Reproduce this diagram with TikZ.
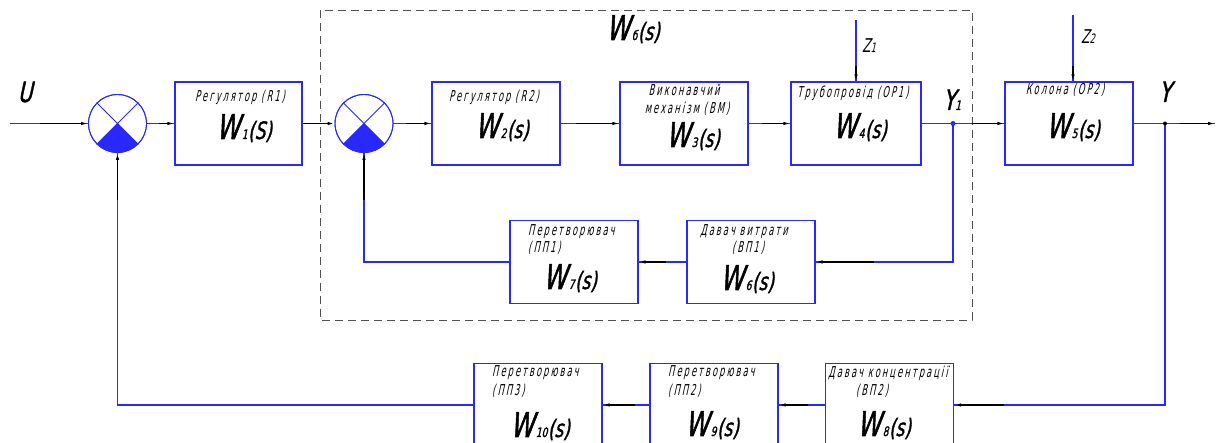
\documentclass[tikz,border=0pt]{standalone}
\usepackage{fontspec}
\usetikzlibrary{calc,arrows.meta}
\newfontfamily\gost{DejaVu Sans}[FakeSlant=0.22,FakeStretch=0.55,LetterSpace=14]
\newfontfamily\gostW{DejaVu Sans}[FakeSlant=0.22,FakeStretch=0.7,FakeBold=1.5]
\newfontfamily\gostZ{DejaVu Sans}[FakeSlant=0.22,FakeStretch=0.65]
\definecolor{lblue}{RGB}{40,40,255}
\definecolor{dgray}{RGB}{80,80,80}
\newcommand\WTF[2]{{\fontsize{34}{34}\selectfont\gostW W}\kern2pt{\fontsize{13}{13}\selectfont\gostW #1}\kern0.5pt{\fontsize{24}{24}\selectfont\gostW(#2)}}
\tikzset{
  box/.style={draw=lblue, line width=1.2pt, minimum width=128pt, minimum height=83pt, inner sep=0pt},
  sumnode/.style={circle, draw=lblue, line width=0.9pt, minimum size=58pt, inner sep=0pt},
  wire/.style={draw=lblue, line width=1.3pt},
  tip/.style={draw=black, line width=1.3pt, -{Latex[length=7pt,width=3.5pt]}},
  ttl/.style={font=\fontsize{15}{17}\selectfont\gost, inner sep=0pt},
  wlab/.style={anchor=base, inner sep=0pt},
  big/.style={font=\fontsize{28}{28}\selectfont\gostW, inner sep=0pt, anchor=base},
  zlab/.style={font=\fontsize{19}{19}\selectfont\gostZ, inner sep=0pt, anchor=base},
  frame/.style={draw=dgray, line width=0.9pt, dash pattern=on 8pt off 5pt},
}
\begin{document}
\begin{tikzpicture}[x=1pt,y=-1pt]
\useasboundingbox (0,0) rectangle (1219,443);
% dashed inner-loop frame
\draw[frame] (320,10) rectangle (972,320);
% summing junctions
\node[sumnode] (s1) at (117.5,123.5) {};
\node[sumnode] (s2) at (364,123.5) {};
\foreach \s in {s1,s2}{
  \begin{scope}
    \clip (\s.center) -- ($(\s.center)!2!(\s.south west)$) -- ($(\s.center)!2!(\s.south east)$) -- cycle;
    \fill[lblue] (\s.center) circle[radius=29pt];
  \end{scope}
  \draw[lblue, line width=0.9pt] (\s.north west) -- (\s.south east) (\s.north east) -- (\s.south west);
  \draw[lblue, line width=0.9pt] (\s.center) circle[radius=29pt];
}
% boxes
\node[box, minimum width=127pt] (b1) at (238.5,123.5) {};
\node[box] (b2) at (496,123.5) {};
\node[box] (b3) at (684,123.5) {};
\node[box, minimum width=130pt] (b4) at (856,123.5) {};
\node[box] (b5) at (1069,123.5) {};
\node[box] (b6) at (751,262) {};
\node[box] (b7) at (574,262) {};
\node[box] (b8) at (889.5,405) {};
\node[box] (b9) at (714,405) {};
\node[box] (b10) at (538,405) {};
% titles
\node[ttl] (t1) at (240,97) {Регулятор (R1)};
\node[ttl] (t2) at (494,97) {Регулятор (R2)};
\node[ttl] (t3a) at (684,90) {Виконавчий};
\node[ttl] (t3b) at (687,109) {механізм (ВМ)};
\node[ttl] (t4) at (853,93) {Трубопровід (ОР1)};
\node[ttl] (t5) at (1065,90) {Колона (ОР2)};
\node[ttl, anchor=west] (t7a) at (528,232) {Перетворювач};
\node[ttl, anchor=west] (t7b) at (528,248) {(ПП1)};
\node[ttl] (t6a) at (744,232) {Давач витрати};
\node[ttl] (t6b) at (748,248) {(ВП1)};
\node[ttl, anchor=west] (t10a) at (492,373) {Перетворювач};
\node[ttl, anchor=west] (t10b) at (492,391) {(ПП3)};
\node[ttl, anchor=west] (t9a) at (668,373) {Перетворювач};
\node[ttl, anchor=west] (t9b) at (668,391) {(ПП2)};
\node[ttl] (t8a) at (888,373) {Давач концентрації};
\node[ttl] (t8b) at (872,391) {(ВП2)};
% transfer functions
\node[wlab] (w1) at (244,139) {\WTF{1}{S}};
\node[wlab] (w2) at (502,138) {\WTF{2}{s}};
\node[wlab] (w3) at (693,147) {\WTF{3}{s}};
\node[wlab] (w4) at (860,138) {\WTF{4}{s}};
\node[wlab] (w5) at (1073,138) {\WTF{5}{s}};
\node[wlab] (w6) at (747,290) {\WTF{6}{s}};
\node[wlab] (w7) at (570,289) {\WTF{7}{s}};
\node[wlab] (w8) at (884,436) {\WTF{8}{s}};
\node[wlab] (w9) at (712,436) {\WTF{9}{s}};
\node[wlab] (w10) at (540,437) {\WTF{10}{s}};
\node[wlab] (w0) at (633,40) {\WTF{б}{s}};
% signal labels
\node[big] (lu) at (25,102) {U};
\node[big] (ly1) at (952,110) {Y{\fontsize{13}{13}\selectfont 1}};
\node[big] (ly) at (1165,102) {Y};
\node[zlab] (lz1) at (869,53) {Z{\fontsize{13}{13}\selectfont 1}};
\node[zlab] (lz2) at (1088,44) {Z{\fontsize{13}{13}\selectfont 2}};
% coordinates
\coordinate (in) at (10,123.5);
\coordinate (y1) at (953,123.5);
\coordinate (yb) at (1165,123.5);
\coordinate (out) at (1215,123.5);
\coordinate (z1) at (856,20);
\coordinate (z2) at (1073,15);
% forward path
\draw[wire] (in) -- (s1.west);
\draw[tip] ($(s1.west)+(-48,0)$) -- (s1.west);
\draw[wire] (s1.east) -- (b1.west);
\draw[tip] ($(b1.west)+(-15,0)$) -- (b1.west);
\draw[tip] (b1.east) -- (s2.west);
\draw[wire] (s2.east) -- (b2.west);
\draw[tip] ($(b2.west)+(-25,0)$) -- (b2.west);
\draw[wire] (b2.east) -- (b3.west);
\draw[tip] ($(b3.west)+(-43,0)$) -- (b3.west);
\draw[wire] (b3.east) -- (b4.west);
\draw[tip] ($(b4.west)+(-28,0)$) -- (b4.west);
\draw[wire] (b4.east) -- (b5.west);
\draw[tip] ($(b5.west)+(-32,0)$) -- (b5.west);
\draw[wire] (b5.east) -- (out);
\draw[tip] ($(out)+(-35,0)$) -- (out);
% disturbances
\draw[wire] (z1) -- (b4.north);
\draw[tip] ($(b4.north)+(0,-15)$) -- (b4.north);
\draw[wire] (z2) -- (b5.north -| z2);
\draw[tip] ($(b5.north -| z2)+(0,-15)$) -- (b5.north -| z2);
% inner feedback
\draw[wire] (y1) |- (b6.east);
\draw[tip] ($(b6.east)+(58,0)$) -- (b6.east);
\draw[wire] (b6.west) -- (b7.east);
\draw[tip] ($(b7.east)+(27,0)$) -- (b7.east);
\draw[wire] (b7.west) -| (s2.south);
\draw[tip] ($(s2.south)+(0,47)$) -- (s2.south);
% outer feedback
\draw[wire] (yb) |- (b8.east);
\draw[tip] ($(b8.east)+(50,0)$) -- (b8.east);
\draw[wire] (b8.west) -- (b9.east);
\draw[tip] ($(b9.east)+(29,0)$) -- (b9.east);
\draw[wire] (b9.west) -- (b10.east);
\draw[tip] ($(b10.east)+(32,0)$) -- (b10.east);
\draw[wire] (b10.west) -| (s1.south);
\draw[tip] ($(s1.south)+(0,47)$) -- (s1.south);
% branch points
\fill[lblue] (y1) circle[radius=2.5pt];
\fill[black] (yb) circle[radius=2pt];
\end{tikzpicture}
\end{document}
